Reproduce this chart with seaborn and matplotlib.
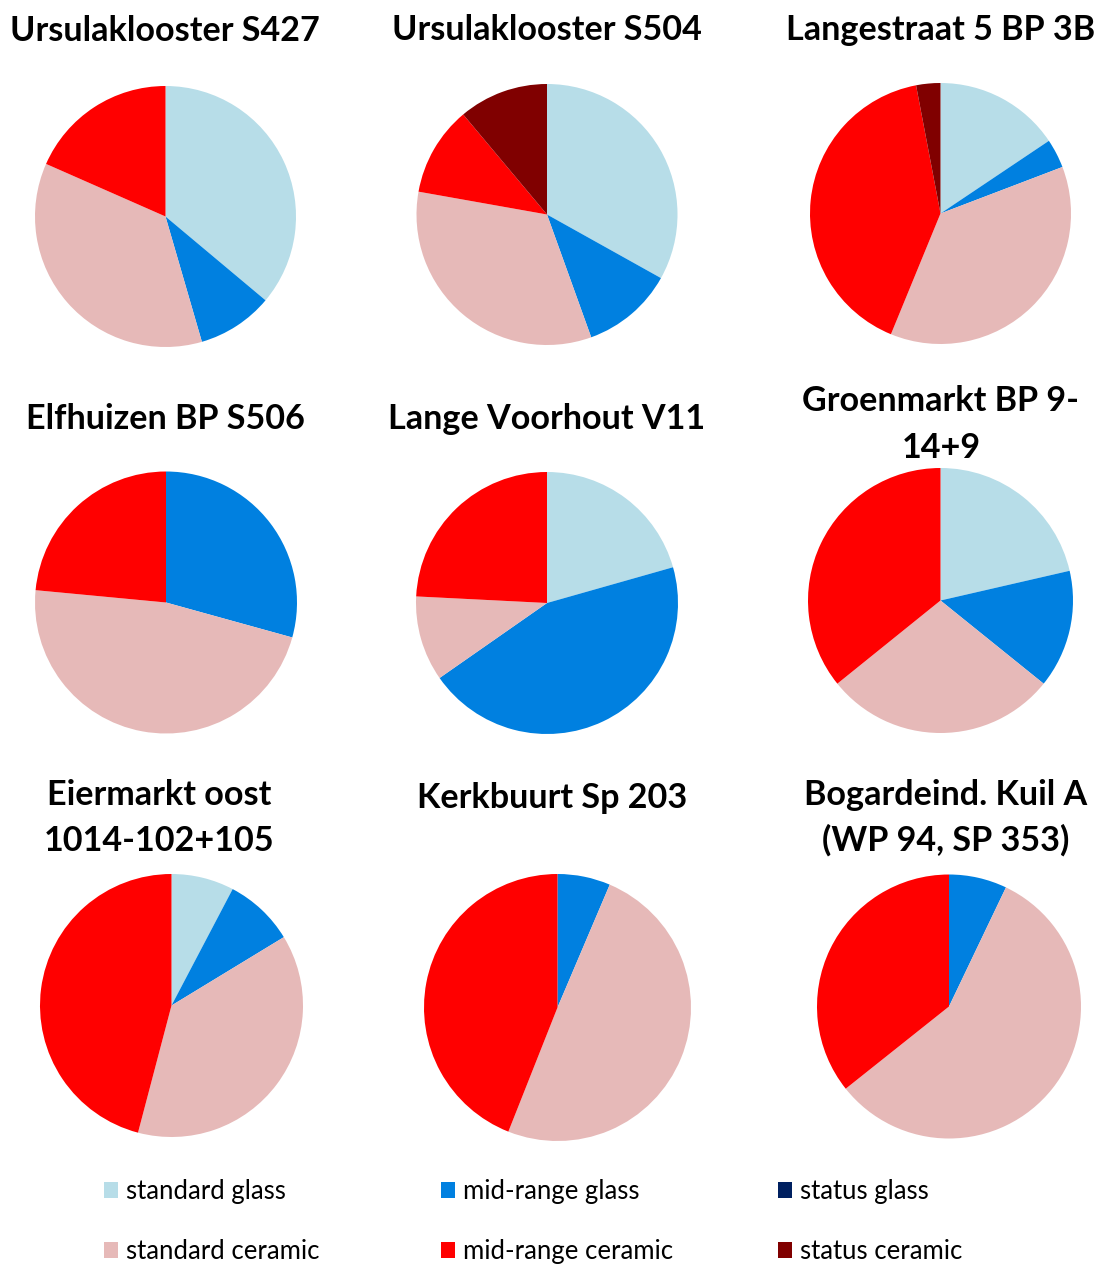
import matplotlib
matplotlib.use("Agg")
import matplotlib.pyplot as plt
from matplotlib.patches import Patch
import seaborn as sns

# Share of each find category per site (percent of the assemblage)
sites = [
    "Ursulaklooster S427", "Ursulaklooster S504", "Langestraat 5 BP 3B",
    "Elfhuizen BP S506", "Lange Voorhout V11", "Groenmarkt BP 9-14+9",
    "Eiermarkt oost 1014-102+105", "Kerkbuurt Sp 203",
    "Bogardeind. Kuil A (WP 94, SP 353)",
]
title_lines = [
    ["Ursulaklooster S427"], ["Ursulaklooster S504"], ["Langestraat 5 BP 3B"],
    ["Elfhuizen BP S506"], ["Lange Voorhout V11"], ["Groenmarkt BP 9-", "14+9"],
    ["Eiermarkt oost", "1014-102+105"], ["Kerkbuurt Sp 203"],
    ["Bogardeind. Kuil A", "(WP 94, SP 353)"],
]
categories = ["standard glass", "mid-range glass", "status glass",
              "standard ceramic", "mid-range ceramic", "status ceramic"]

standard_glass    = [36.1, 33.1, 15.6, 0.0, 20.6, 21.4, 7.7, 0.0, 0.0]
midrange_glass    = [9.4, 11.4, 3.6, 29.3, 44.7, 14.4, 8.6, 6.4, 7.1]
status_glass      = [0.0, 0.0, 0.0, 0.0, 0.0, 0.0, 0.0, 0.0, 0.0]
standard_ceramic  = [36.1, 33.3, 37.0, 47.2, 10.5, 28.4, 37.8, 49.6, 57.2]
midrange_ceramic  = [18.4, 11.1, 40.8, 23.5, 24.2, 35.8, 45.9, 44.0, 35.7]
status_ceramic    = [0.0, 11.1, 3.0, 0.0, 0.0, 0.0, 0.0, 0.0, 0.0]

colors = ["#B7DDE8", "#0080E0", "#002060", "#E6B9B8", "#FF0000", "#800000"]

W, H = 1094, 1267
sns.set_theme(style="white")
plt.rcParams["font.family"] = ["Lato", "DejaVu Sans"]

fig = plt.figure(figsize=(W / 100, H / 100), dpi=100)
fig.patch.set_facecolor("white")


def fx(x):
    return x / W


def fy(y):
    return 1 - y / H


# pie centre (px), radius (px), title centre x (px), title baselines (px)
layout = [
    ((165.5, 216.5), 130.5, 165, [41]),
    ((547.0, 214.5), 130.5, 547, [40]),
    ((940.5, 213.5), 130.5, 941, [40]),
    ((166.0, 602.5), 131.0, 165, [429]),
    ((547.0, 603.0), 131.0, 547, [429]),
    ((940.5, 600.5), 132.5, 941, [411, 458]),
    ((171.5, 1005.5), 131.5, 159, [805, 851]),
    ((557.5, 1007.5), 133.5, 552, [808]),
    ((949.0, 1006.5), 132.0, 946, [805, 851]),
]

for i, ((cx, cy), r, tx, baselines) in enumerate(layout):
    values = [standard_glass[i], midrange_glass[i], status_glass[i],
              standard_ceramic[i], midrange_ceramic[i], status_ceramic[i]]
    ax = fig.add_axes([fx(cx - r), fy(cy + r), 2 * r / W, 2 * r / H])
    ax.pie(values, colors=colors, startangle=90, counterclock=False,
           radius=1.0, wedgeprops=dict(linewidth=0, antialiased=True))
    ax.set_xlim(-1, 1)
    ax.set_ylim(-1, 1)
    ax.set_axis_off()
    for line, yb in zip(title_lines[i], baselines):
        fig.text(fx(tx), fy(yb), line, ha="center", va="baseline",
                 fontsize=24.6, fontweight="bold", color="black")

# Legend: three columns of two entries each
handles = [Patch(facecolor=c, edgecolor="none") for c in colors]
columns = [(0, 3, 104), (1, 4, 441), (2, 5, 778)]
for a, b, x0 in columns:
    leg = fig.legend([handles[a], handles[b]], [categories[a], categories[b]],
                     loc="center left", bbox_to_anchor=(fx(x0), fy(1221.5)),
                     frameon=False, fontsize=18.5, handlelength=0.55,
                     handleheight=0.55, handletextpad=0.31, labelspacing=1.37,
                     borderpad=0, borderaxespad=0)
    for t in leg.get_texts():
        t.set_color("black")

fig.savefig("out.png", dpi=100, facecolor="white")
